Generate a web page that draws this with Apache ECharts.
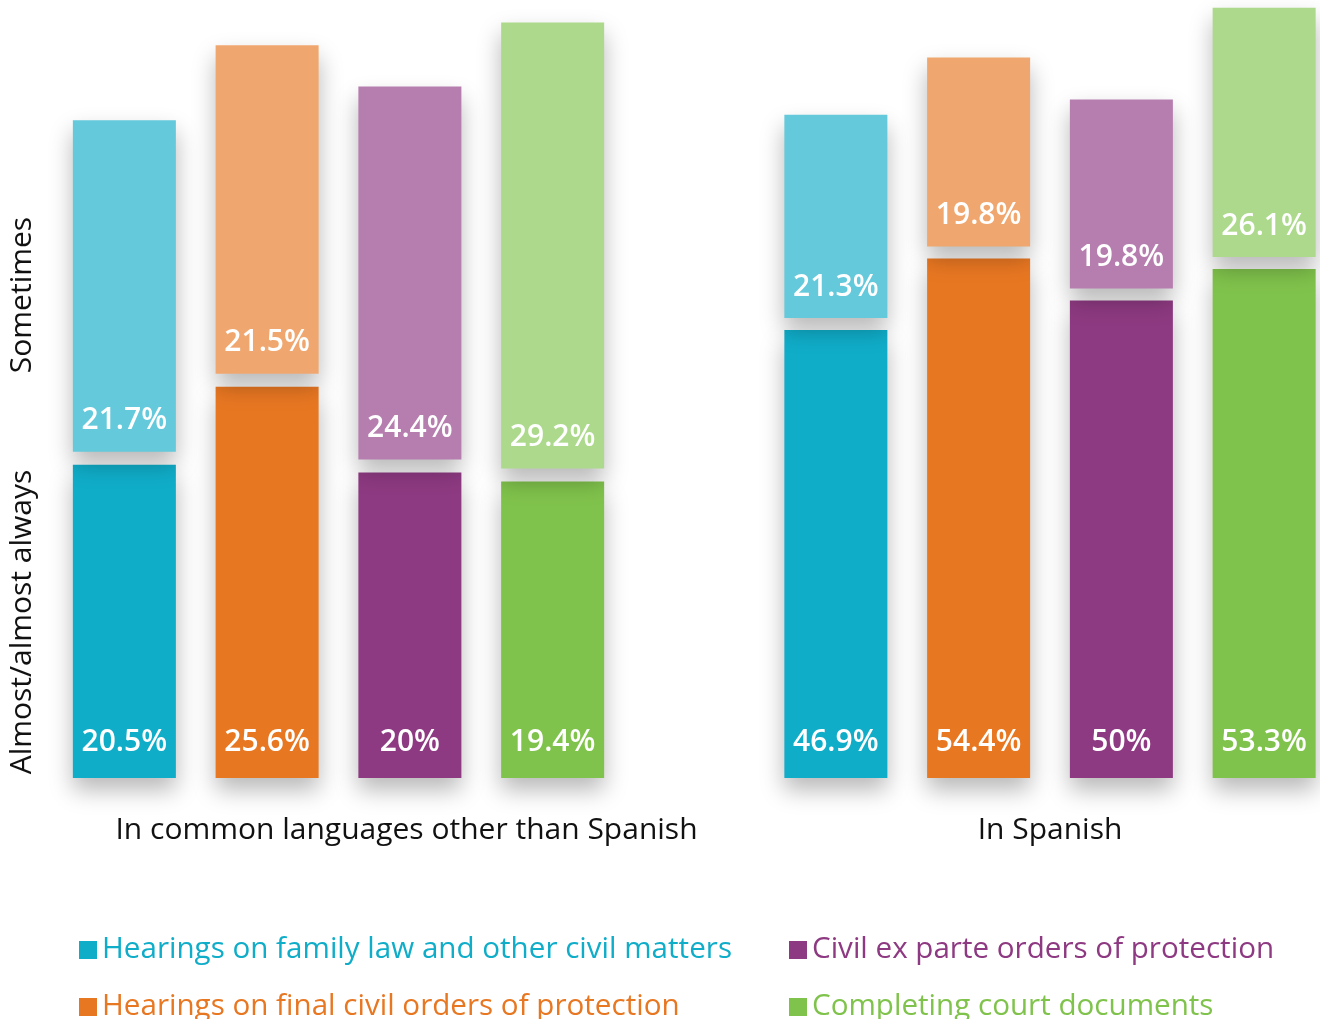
<!DOCTYPE html>
<html>
<head>
<meta charset="utf-8">
<script src="https://cdn.jsdelivr.net/npm/echarts@6/dist/echarts.min.js"></script>
<style>html,body{margin:0;padding:0;background:#fff}#c{width:1320px;height:1019px}</style>
</head>
<body>
<div id="c"></div>
<script>
const groups = ['In common languages other than Spanish', 'In Spanish'];
const types = ['Hearings on family law and other civil matters', 'Hearings on final civil orders of protection', 'Civil ex parte orders of protection', 'Completing court documents'];
const levels = ['Almost/almost always', 'Sometimes'];
// values per type: [left group, right group]
const almostAlways = [[20.5, 46.9], [25.6, 54.4], [20, 50], [19.4, 53.3]];
const sometimes = [[21.7, 21.3], [21.5, 19.8], [24.4, 19.8], [29.2, 26.1]];

const darkColors = ['#10adc9', '#e87722', '#8e3a82', '#80c34c'];
const lightColors = ['#63c9db', '#f0a76f', '#b67daf', '#acd98c'];

const FONT = 'Open Sans';
const gridTop = 14, gridBottom = 241, gridH = 1019 - gridTop - gridBottom;
const yMax = [50, 80];
const gapPx = [13, 12];

const grids = [
  { left: 38, width: 601, top: gridTop, bottom: gridBottom },
  { left: 780, width: 541, top: gridTop, bottom: gridBottom }
];
const xAxes = groups.map((g, i) => ({
  type: 'category', gridIndex: i, data: [g],
  axisLine: { show: false }, axisTick: { show: false },
  axisLabel: {
    margin: 37, color: '#111', fontFamily: FONT, fontSize: 30, fontWeight: 500,
    padding: i === 0 ? [0, 0, 0, 136] : 0
  }
}));
const yAxes = groups.map((g, i) => ({ type: 'value', gridIndex: i, min: 0, max: yMax[i], show: false, splitLine: { show: false } }));

const shadow = { shadowBlur: 22, shadowOffsetY: 12, shadowColor: 'rgba(0,0,0,0.28)' };
const valueLabel = (d) => ({ show: true, position: 'insideBottom', distance: d, formatter: '{c}%', color: '#fff', fontFamily: FONT, fontSize: 30, fontWeight: 600 });
const series = [];
groups.forEach((g, gi) => {
  types.forEach((t, ti) => {
    const stack = 'g' + gi + 't' + ti;
    series.push({
      type: 'bar', name: t, stack, xAxisIndex: gi, yAxisIndex: gi, clip: false,
      barWidth: 103, barGap: '38.6%',
      data: [almostAlways[ti][gi]],
      itemStyle: Object.assign({ color: darkColors[ti] }, shadow),
      label: valueLabel(21),
      emphasis: { disabled: true }
    });
    series.push({
      type: 'bar', name: '_gap', stack, xAxisIndex: gi, yAxisIndex: gi, clip: false,
      barWidth: 103, barGap: '38.6%',
      data: [gapPx[gi] * yMax[gi] / gridH],
      itemStyle: { color: 'rgba(0,0,0,0)' }, silent: true,
      emphasis: { disabled: true }
    });
    series.push({
      type: 'bar', name: t, stack, xAxisIndex: gi, yAxisIndex: gi, clip: false,
      barWidth: 103, barGap: '38.6%',
      data: [sometimes[ti][gi]],
      itemStyle: Object.assign({ color: lightColors[ti] }, shadow),
      label: valueLabel(16),
      emphasis: { disabled: true }
    });
  });
});

const legendPos = [[79, 935], [79, 992], [789, 935], [789, 992]];
const legends = types.map((t, i) => ({
  left: legendPos[i][0], top: legendPos[i][1], padding: 0,
  icon: 'rect', itemWidth: 18, itemHeight: 18,
  data: [t],
  textStyle: { fontFamily: FONT, fontSize: 29.6, fontWeight: 500, lineHeight: 30, color: darkColors[i] },
  itemStyle: { shadowBlur: 0, shadowOffsetY: 0 }
}));

const chart = echarts.init(document.getElementById('c'), null, { renderer: 'canvas' });
chart.setOption({
  animation: false,
  backgroundColor: '#fff',
  grid: grids, xAxis: xAxes, yAxis: yAxes, series, legend: legends,
  graphic: [
    { type: 'text', x: 22, y: 295, rotation: Math.PI / 2, style: { text: levels[1], align: 'center', verticalAlign: 'middle', fontFamily: FONT, fontSize: 30, fill: '#111' } },
    { type: 'text', x: 22, y: 622, rotation: Math.PI / 2, style: { text: levels[0], align: 'center', verticalAlign: 'middle', fontFamily: FONT, fontSize: 30, fill: '#111' } }
  ]
});
</script>
</body>
</html>
